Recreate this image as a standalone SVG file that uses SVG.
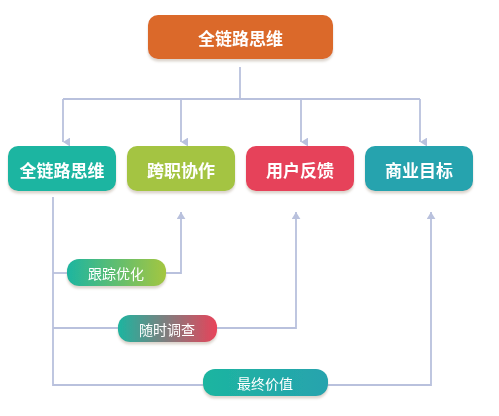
<svg xmlns="http://www.w3.org/2000/svg" width="499" height="416" viewBox="0 0 499 416">
<defs>
<style>
.t{font-family:"Noto Sans CJK SC","Noto Sans",sans-serif;font-weight:bold;fill:#fff;text-anchor:middle;dominant-baseline:central}
.big{font-size:17px}
.small{font-size:14px;font-weight:normal}
.ln{fill:none;stroke:#B9C1DD;stroke-width:1.8}
</style>
<filter id="sh" x="-10%" y="-20%" width="120%" height="150%">
<feDropShadow dx="0" dy="2.5" stdDeviation="1.2" flood-color="#b0a090" flood-opacity="0.45"/>
</filter>
<marker id="ar" viewBox="0 0 10 10" refX="5" refY="8" markerWidth="9" markerHeight="9" markerUnits="userSpaceOnUse" orient="auto-start-reverse">
<path d="M0,0 L5,8 L10,0 Z" fill="#B9C1DD"/>
</marker>
<marker id="au" viewBox="0 0 10 10" refX="5" refY="2" markerWidth="9" markerHeight="9" markerUnits="userSpaceOnUse" orient="0">
<path d="M0,10 L5,2 L10,10 Z" fill="#B9C1DD"/>
</marker>
<linearGradient id="g1" x1="0" x2="1" y1="0" y2="0"><stop offset="0" stop-color="#1DB5A0"/><stop offset="1" stop-color="#A4C640"/></linearGradient>
<linearGradient id="g2" x1="0" x2="1" y1="0" y2="0"><stop offset="0" stop-color="#1DB5A0"/><stop offset="1" stop-color="#E8435A"/></linearGradient>
<linearGradient id="g3" x1="0" x2="1" y1="0" y2="0"><stop offset="0" stop-color="#1DB5A0"/><stop offset="1" stop-color="#27A3AE"/></linearGradient>
</defs>
<rect width="499" height="416" fill="#fff"/>
<g id="connectors">
<path class="ln" d="M240,67 V99"/>
<path class="ln" d="M63,99 H420"/>
<path class="ln" d="M63,99 V142" marker-end="url(#ar)"/>
<path class="ln" d="M181,99 V142" marker-end="url(#ar)"/>
<path class="ln" d="M301,99 V142" marker-end="url(#ar)"/>
<path class="ln" d="M420,99 V142" marker-end="url(#ar)"/>
<path class="ln" d="M53,197 V385 H204"/>
<path class="ln" d="M53,273 H68"/>
<path class="ln" d="M53,328 H119"/>
<path class="ln" d="M165,273 H181 V212" marker-end="url(#au)"/>
<path class="ln" d="M216,328 H296 V212" marker-end="url(#au)"/>
<path class="ln" d="M327,385 H431 V212" marker-end="url(#au)"/>
</g>
<g id="n0" filter="url(#sh)">
<rect x="148" y="15" width="185" height="44" rx="10" fill="#DB692C"/>
<text class="t big" x="240.5" y="37.5">全链路思维</text>
</g>
<g id="n1" filter="url(#sh)">
<rect x="8" y="146" width="108" height="45" rx="10" fill="#1EB5A1"/>
<text class="t big" x="62" y="169">全链路思维</text>
</g>
<g id="n2" filter="url(#sh)">
<rect x="127" y="146" width="108" height="45" rx="10" fill="#A4C443"/>
<text class="t big" x="181" y="169">跨职协作</text>
</g>
<g id="n3" filter="url(#sh)">
<rect x="246" y="146" width="108" height="45" rx="10" fill="#E6425A"/>
<text class="t big" x="300" y="169">用户反馈</text>
</g>
<g id="n4" filter="url(#sh)">
<rect x="365" y="146" width="108" height="45" rx="10" fill="#28A3AE"/>
<text class="t big" x="419" y="169">商业目标</text>
</g>
<g id="p1" filter="url(#sh)">
<rect x="67" y="259" width="99" height="27" rx="12" fill="url(#g1)"/>
<text class="t small" x="116" y="272.5">跟踪优化</text>
</g>
<g id="p2" filter="url(#sh)">
<rect x="118" y="315" width="99" height="27" rx="12" fill="url(#g2)"/>
<text class="t small" x="167" y="328.5">随时调查</text>
</g>
<g id="p3" filter="url(#sh)">
<rect x="203" y="369" width="125" height="27" rx="12" fill="url(#g3)"/>
<text class="t small" x="265" y="382.5">最终价值</text>
</g>
</svg>
